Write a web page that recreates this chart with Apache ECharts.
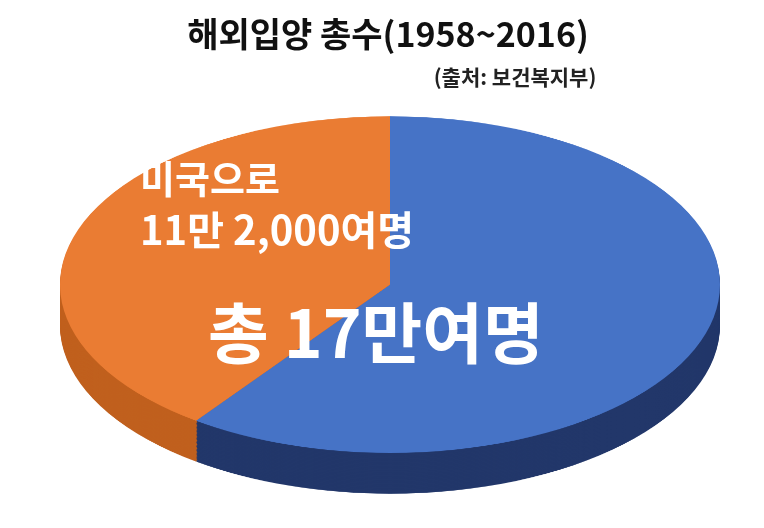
<!DOCTYPE html>
<html><head><meta charset="utf-8">
<script src="https://cdn.jsdelivr.net/npm/echarts@6/dist/echarts.min.js"></script>
<style>
body{margin:0;background:#fff;}
#wrap{position:relative;width:764px;height:528px;overflow:hidden;}
#pie{position:absolute;left:0;top:0;width:764px;height:1050px;transform:scaleY(0.51);transform-origin:0 0;}
#text{position:absolute;left:0;top:0;width:764px;height:528px;}
</style></head>
<body>
<div id="wrap"><div id="pie"></div><div id="text"></div></div>
<script>
const names = ['전체', '미국으로'];
const shares = [60, 40];
const topColors = ['#4673c6', '#ea7c33'];
const sideColors = ['#22376a', '#c0601e'];
const font = '"Noto Sans CJK KR", sans-serif';

const pie = echarts.init(document.getElementById('pie'));
const cx = 390, cy = 558, r = 330, depth = 80, layers = 30;
const series = [];
for (let i = layers; i >= 0; i--) {
  const top = i === 0;
  series.push({
    type: 'pie',
    silent: true,
    animation: false,
    center: [cx, cy + depth * i / layers],
    radius: [0, r],
    startAngle: 90,
    clockwise: true,
    label: { show: false },
    labelLine: { show: false },
    itemStyle: { borderWidth: 0 },
    data: names.map((n, k) => ({
      name: n,
      value: shares[k],
      itemStyle: { color: top ? topColors[k] : sideColors[k] },
    })),
  });
}
pie.setOption({ series: series });

const txt = echarts.init(document.getElementById('text'));
txt.setOption({
  title: [
    { text: '해외입양 총수(1958~2016)', left: 383, top: 12, textAlign: 'center',
      textStyle: { fontFamily: font, fontSize: 34, fontWeight: 'bold', color: '#111' } },
    { text: '(출처: 보건복지부)', left: 510, top: 62, textAlign: 'center',
      textStyle: { fontFamily: font, fontSize: 21, fontWeight: 'bold', color: '#222' } },
  ],
  graphic: [
    { type: 'text', left: 140, top: 160, style: { text: '미국으로', fill: '#fff', font: 'bold 38px ' + font } },
    { type: 'text', left: 140, top: 210, style: { text: '11만 2,000여명', fill: '#fff', font: 'bold 40px ' + font } },
    { type: 'text', left: 208, top: 300, style: { text: '총 17만여명', fill: '#fff', font: 'bold 66px ' + font } },
  ],
});
</script>
</body></html>
